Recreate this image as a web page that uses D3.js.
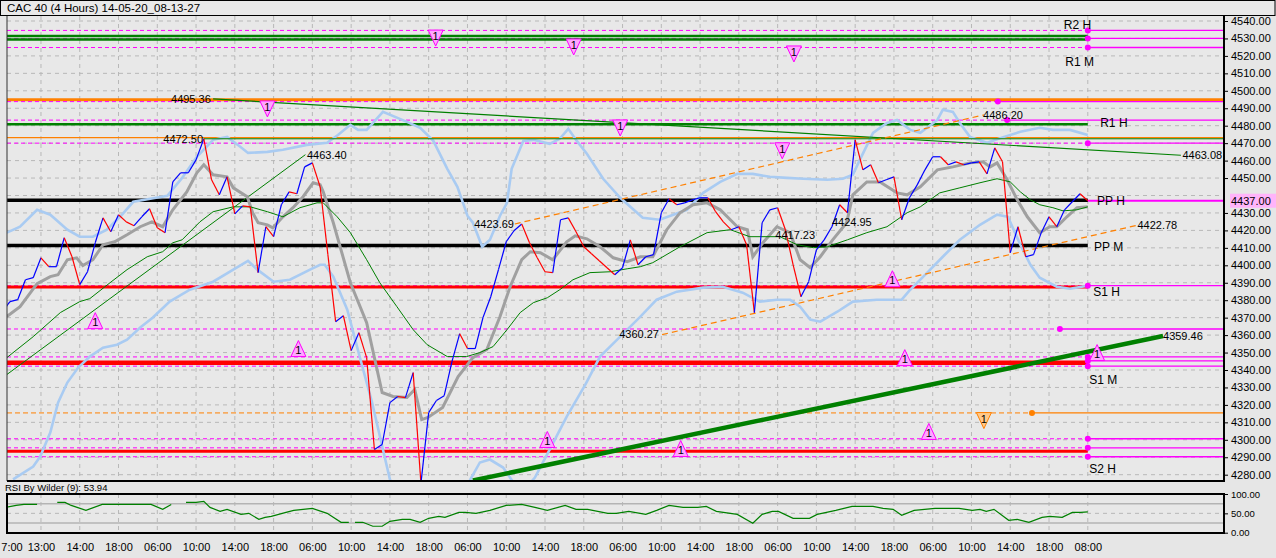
<!DOCTYPE html>
<html><head><meta charset="utf-8">
<script src="https://cdn.jsdelivr.net/npm/d3@7"></script>
<style>
html,body{margin:0;padding:0;background:#e6e6e6;overflow:hidden}
text{font-family:"Liberation Sans",Arial,sans-serif;fill:#000}
</style></head><body>
<svg id="c" width="1276" height="558"></svg>
<script>
// ---------------- DATA ----------------
const chartTitle = "CAC 40 (4 Hours) 14-05-20_08-13-27";
const rsiTitle = "RSI By Wilder (9): 53.94";
const timeLabels = ["7:00","13:00","14:00","18:00","06:00","10:00","14:00","18:00","06:00","10:00","14:00","18:00","06:00","10:00","14:00","18:00","06:00","10:00","14:00","18:00","06:00","10:00","14:00","18:00","06:00","10:00","14:00","18:00","08:00"];
const timeBars = [1.2,5,10,15,20,25,30,35,40,45,50,55,60,65,70,75,80,85,90,95,100,105,110,115,120,125,130,135,140];
const priceTicks = [4280,4290,4300,4310,4320,4330,4340,4350,4360,4370,4380,4390,4400,4410,4420,4430,4440,4450,4460,4470,4480,4490,4500,4510,4520,4530,4540];
const rsiTicks = [0,50,100];
const lastPrice = 4437.00;

const closes = [
4373.4,4379.2,4380.3,4391.7,4392.9,4404.3,4399.2,4399.2,4415.8,4404.9,
4388.9,4396.3,4412.9,4427.2,4419.2,4429.0,4424.9,4422.7,4427.8,4432.4,
4421.5,4418.7,4447.8,4453.0,4453.0,4460.4,4472.5,4449.0,4440.4,4450.7,
4429.5,4434.1,4433.5,4395.8,4422.1,4416.4,4434.7,4442.1,4441.0,4456.4,
4458.7,4445.0,4406.1,4367.7,4371.1,4351.1,4361.4,4347.1,4294.4,4297.3,
4321.3,4324.8,4324.2,4338.5,4275.0,4315.6,4322.5,4325.3,4344.8,4360.8,
4352.3,4352.3,4370.0,4382.0,4397.5,4413.5,4419.8,4423.7,4412.9,4404.3,
4396.3,4395.8,4426.1,4427.2,4419.2,4410.6,4406.6,4402.6,4398.6,4394.6,
4398.6,4414.6,4400.3,4404.9,4406.1,4430.1,4438.1,4434.7,4435.8,4437.5,
4438.7,4438.7,4430.7,4424.9,4420.4,4422.1,4411.8,4372.9,4424.4,4431.8,
4433.0,4420.4,4400.3,4382.0,4390.6,4408.9,4414.6,4422.1,4434.7,4430.1,
4471.9,4454.7,4457.6,4447.3,4449.0,4450.7,4426.1,4438.7,4446.1,4454.7,
4462.2,4462.2,4457.6,4459.3,4457.6,4458.7,4459.3,4452.4,4467.3,4459.3,
4407.2,4422.1,4404.9,4406.1,4418.7,4427.8,4422.1,4431.8,4436.4,4441.0,
4437.0];

const greyMA = [[0.6,4370.6],[2.3,4376.3],[4.5,4389.5],[6.2,4393.5],[7.2,4394.6],[8.4,4403.2],[9.6,4404.3],[10.4,4399.8],[11.7,4403.2],[13.0,4411.8],[14.5,4413.5],[16.1,4417.5],[17.8,4422.1],[19.3,4424.9],[20.7,4422.1],[22.0,4431.8],[23.8,4442.1],[25.1,4453.0],[26.0,4457.6],[27.2,4451.9],[29.0,4450.7],[29.8,4444.4],[31.6,4439.3],[32.3,4430.1],[33.0,4424.4],[34.2,4423.2],[34.9,4421.5],[36.2,4427.8],[37.5,4433.0],[38.8,4439.3],[40.1,4447.3],[41.0,4446.1],[41.4,4442.1],[42.7,4424.4],[44.9,4390.0],[47.0,4367.1],[49.0,4327.1],[50.4,4324.8],[52.2,4324.2],[53.2,4328.8],[54.1,4311.6],[54.9,4312.8],[56.8,4318.5],[58.8,4336.2],[60.7,4347.1],[62.5,4351.7],[64.2,4370.6],[65.5,4387.7],[67.0,4403.2],[68.1,4407.8],[69.4,4407.2],[71.0,4403.2],[72.8,4413.5],[73.9,4416.9],[75.4,4415.2],[77.1,4410.6],[78.8,4404.3],[80.6,4402.1],[82.3,4404.9],[83.9,4404.9],[85.7,4420.4],[87.4,4430.1],[89.1,4434.7],[90.9,4435.8],[92.6,4431.8],[94.8,4422.1],[96.1,4420.4],[96.8,4404.9],[98.1,4412.9],[99.9,4422.1],[101.6,4418.7],[102.9,4403.2],[104.2,4398.6],[105.5,4404.9],[107.1,4414.6],[108.9,4424.4],[109.7,4440.4],[111.5,4447.8],[113.2,4447.8],[115.4,4441.5],[116.7,4440.4],[118.4,4445.0],[120.6,4454.7],[122.6,4456.4],[124.8,4458.7],[126.5,4459.3],[127.4,4456.4],[128.3,4458.7],[129.6,4449.0],[130.9,4437.5],[132.2,4427.8],[133.8,4418.7],[135.1,4422.1],[136.0,4422.1],[137.3,4427.8],[138.6,4433.0],[140,4433.5]];

const greenMA = [[0.6,4347.1],[4.0,4359.1],[7.5,4372.9],[10.0,4379.2],[11.3,4380.9],[13.9,4390.0],[16.1,4397.5],[18.7,4404.9],[20.7,4407.8],[22.0,4412.9],[23.2,4414.6],[25.5,4424.9],[27.2,4430.7],[29.8,4433.5],[32.0,4433.5],[34.2,4430.7],[36.2,4427.8],[38.4,4433.0],[40.6,4435.8],[41.4,4435.8],[43.2,4427.8],[44.9,4418.7],[47.0,4403.2],[48.7,4390.0],[50.9,4376.3],[53.0,4363.1],[54.8,4354.5],[57.4,4347.7],[59.9,4347.7],[61.6,4350.0],[63.3,4353.4],[65.1,4363.1],[66.8,4372.9],[68.5,4378.6],[70.3,4381.4],[71.9,4386.0],[73.6,4391.7],[75.8,4395.8],[78.4,4396.3],[80.6,4398.0],[82.3,4399.2],[83.9,4401.5],[87.4,4410.6],[90.9,4418.7],[93.9,4420.4],[96.4,4416.4],[100.3,4416.4],[102.5,4411.8],[104.6,4410.1],[106.4,4410.6],[109.0,4414.6],[111.5,4418.7],[114.1,4422.1],[116.7,4430.1],[118.4,4433.5],[120.9,4441.5],[123.5,4444.4],[126.1,4447.3],[128.3,4449.6],[130.0,4447.8],[131.3,4442.1],[132.6,4437.5],[133.8,4434.7],[135.5,4433.0],[136.8,4431.2],[138.6,4431.8],[140,4433.5]];

const upperBand = [[0.6,4418.7],[2.3,4422.1],[4.5,4431.8],[6.2,4429.0],[8.4,4420.4],[10.0,4416.4],[11.7,4416.4],[13.5,4420.4],[15.2,4427.8],[16.9,4436.4],[19.1,4438.1],[21.3,4439.8],[23.2,4450.1],[25.1,4462.2],[27.2,4471.9],[29.0,4473.6],[30.7,4467.9],[31.7,4464.4],[34.2,4465.0],[36.2,4466.2],[39.3,4469.0],[41.9,4470.2],[43.3,4474.7],[44.9,4480.5],[45.9,4477.6],[47.0,4477.6],[49.1,4487.9],[52.2,4482.2],[53.9,4478.8],[55.6,4471.3],[57.4,4455.3],[58.7,4445.0],[60.0,4428.4],[60.7,4424.4],[61.9,4410.6],[62.9,4414.6],[64.2,4428.4],[65.1,4435.8],[65.7,4455.3],[67.2,4471.3],[68.5,4471.9],[70.6,4469.6],[71.9,4472.5],[73.0,4478.2],[74.1,4471.3],[75.4,4463.9],[77.5,4449.6],[79.7,4438.7],[82.6,4427.2],[84.8,4426.1],[88.3,4431.8],[90.4,4441.5],[92.6,4447.8],[94.8,4452.4],[96.8,4452.4],[99.0,4450.7],[101.2,4450.1],[103.3,4449.6],[106.4,4449.0],[108.4,4449.6],[109.7,4451.9],[110.6,4460.4],[112.3,4475.9],[114.1,4481.6],[115.4,4483.3],[117.1,4477.6],[118.4,4475.9],[120.6,4483.3],[121.3,4489.1],[122.6,4487.9],[123.5,4481.6],[124.8,4473.6],[127.0,4470.2],[129.2,4473.6],[131.3,4476.5],[133.8,4478.8],[135.5,4477.6],[137.7,4477.6],[140,4474.7]];

const lowerBand = [[1.4,4277.3],[4.0,4284.7],[4.9,4290.4],[6.2,4304.2],[7.2,4321.3],[8.4,4332.8],[9.8,4341.4],[11.3,4347.7],[13.0,4352.8],[14.8,4354.5],[16.1,4357.4],[17.8,4364.3],[19.4,4370.0],[21.6,4379.2],[24.2,4386.0],[27.2,4390.6],[29.8,4397.5],[31.7,4402.6],[32.9,4397.5],[35.0,4390.6],[37.1,4391.7],[39.7,4397.5],[41.0,4400.3],[41.6,4400.3],[42.7,4393.5],[44.5,4374.6],[46.1,4347.7],[47.7,4321.3],[49.1,4294.4],[50.0,4277.3],[52.0,4263.0],[55.2,4257.2],[58.4,4265.8],[60.3,4276.7],[61.6,4287.0],[62.9,4288.7],[64.6,4284.1],[66.1,4274.4],[67.4,4271.6],[68.7,4278.4],[70.6,4294.4],[72.8,4313.3],[75.2,4331.6],[77.1,4347.7],[79.7,4359.1],[82.3,4370.6],[84.4,4380.3],[87.0,4384.9],[90.4,4387.2],[92.9,4387.7],[95.5,4384.3],[97.7,4379.2],[99.9,4380.3],[101.6,4380.3],[102.9,4376.3],[104.2,4368.9],[105.5,4367.7],[107.7,4373.4],[109.7,4379.2],[112.8,4380.3],[116.0,4380.3],[117.1,4386.0],[119.3,4395.8],[121.3,4404.9],[123.5,4414.6],[126.1,4423.2],[128.3,4429.0],[129.7,4427.8],[131.3,4411.8],[132.6,4400.3],[133.8,4392.9],[136.0,4387.7],[137.7,4386.6],[140,4388.3]];

const rsi = [[0.5,65.4],[1.8,70.5],[2.8,73.1],[4.5,73.1],null,
[7.1,78.2],[8.1,78.2],[8.9,70.5],[10.8,57.7],[12.9,73.1],[15.5,73.1],[17.6,73.1],[19.2,73.1],[20.7,60.3],[21.8,73.1],null,
[23.7,78.2],[25.0,78.2],[26.0,80.8],[26.8,65.4],[28.1,55.1],[29.0,60.3],[30.8,47.4],[31.8,50.0],[33.1,34.6],[33.9,39.7],[34.7,42.3],[36.6,52.6],[37.6,57.7],[40.0,62.8],[41.9,50.0],[43.7,26.9],[44.7,26.9],null,
[45.5,26.9],[46.5,26.9],[47.8,16.7],[49.0,16.7],[50.0,29.5],[51.6,34.6],[52.6,34.6],[53.9,26.9],[55.0,37.2],[56.3,42.3],[57.1,39.7],[58.9,52.6],[59.7,52.6],[61.1,50.0],[62.9,57.7],[65.0,70.5],[67.0,73.1],[68.7,65.4],[70.3,57.7],[72.6,70.5],[74.0,60.3],[75.5,60.3],[78.1,50.0],[79.2,50.0],[80.8,55.1],[83.0,47.4],[84.4,57.7],[86.0,70.5],[87.8,65.4],[89.7,65.4],[90.8,67.9],[92.1,55.1],[94.8,47.4],[96.8,24.4],[98.0,47.4],[99.3,55.1],[100.1,55.1],[102.0,37.2],[104.1,37.2],[105.1,47.4],[107.5,57.7],[109.6,67.9],[112.3,67.9],[113.6,62.8],[114.9,60.3],[116.0,44.9],[117.6,57.7],[120.3,62.8],[123.4,62.8],[125.1,57.7],[126.1,60.3],[126.9,55.1],[127.9,60.3],[129.8,32.1],[130.9,34.6],[132.4,26.9],[134.1,39.7],[135.1,42.3],[136.7,39.7],[138.0,52.6],[139.1,52.6],[140,53.94]];
const rsiLevels = [25,75];

// pivot / level lines
const pivotLevels  = [4534.6,4530.0,4524.8,4493.8,4483.2,4470.0,4388.3,4363.5,4347.5,4345.2,4342.2,4300.6,4295.4,4290.3];
const pivotDotBar  = [140,140,140,128.4,129.6,140,140,136.4,140,140,140,140,140,140];
const pivotDashed  = [1,1,1,1,1,1,1,1,1,0,1,1,1,1];
const pivotNames   = ["R2 H","R1 M","R1 H","PP H","PP M","S1 H","S1 M","S2 H"];
const pivotNameBar = [136.9,137.1,141.6,141.2,140.8,140.7,140.2,140.2];
const pivotNamePrice = [4537.7,4516.5,4481.6,4437.0,4410.7,4384.8,4334.5,4283.5];
const greenLevels = [4531.4,4529.4,4480.9];
const orangeLevels = [4494.8,4473.2];
const blackLevels = [4437.3,4411.4];
const redLevels = [4387.5,4344.1,4293.5];
const orangeDashLevel = 4315.4, orangeDashDotBar = 132.8;

// trend lines [bar, price]
const trendDownG = [[27.2,4495.36],[152.0,4463.08]];
const trendFlatG = [[26,4472.5],[157.6,4472.5]];
const trendUpG   = [[0.6,4337.4],[39.1,4463.4]];
const trendThick = [[60.7,4276.7],[149.7,4359.46]];
const trendOrA   = [[66.1,4423.69],[126.6,4486.2]];
const trendOrB   = [[85.1,4360.27],[146.2,4422.78]];

// price annotations
const valueText   = ["4495.36","4472.50","4463.40","4423.69","4360.27","4486.20","4463.08","4422.78","4359.46","4417.23","4424.95"];
const valueBar    = [26.9,25.9,39.3,66.0,84.7,126.5,152.2,146.4,149.7,99.7,107.0];
const valuePrice  = [4495.36,4472.50,4463.40,4423.69,4360.27,4486.20,4463.08,4422.78,4359.46,4417.23,4424.95];
const valueAnchor = ["end","end","start","end","end","start","start","start","start","start","start"];

// signal triangles [bar, price at flat edge]
const sigDown = [[55.9,4534.8],[73.7,4529.7],[102.1,4525.7],[34.2,4494.2],[79.7,4483.3],[100.6,4470.2]];
const sigUp   = [[12.0,4363.7],[38.2,4347.7],[114.8,4387.7],[116.4,4342.5],[141.2,4345.4],[70.3,4295.6],[87.5,4290.4],[119.5,4300.2]];
const sigOrange = [[126.6,4315.6]];

// ---------------- DRAW ----------------
const W=1276,H=558, PL=7, PR=1224, PT=16, PB=481, RT=494, RB=533;
const svg=d3.select('#c');
const x=d3.scaleLinear().domain([0,140]).range([2.2,1087.8]);
const y=d3.scaleLinear().domain([4280,4540]).range([474.7,21]);
const yr=d3.scaleLinear().domain([0,100]).range([532.7,494]);
const iL=x.invert(PL), iR=x.invert(PR);
const gridBars=d3.range(5,141,5);

svg.append('rect').attr('width',W).attr('height',H).attr('fill','#e6e6e6');
svg.append('rect').attr('x',0.5).attr('y',0.5).attr('width',W-1.5).attr('height',15).attr('fill','#e9e9e9').attr('stroke','#000');
svg.append('text').attr('x',7).attr('y',12).attr('font-size',11.5).text(chartTitle);

const defs=svg.append('defs');
defs.append('clipPath').attr('id','cp').append('rect').attr('x',PL).attr('y',PT).attr('width',PR-PL).attr('height',PB-PT);
defs.append('clipPath').attr('id','cr').append('rect').attr('x',PL).attr('y',RT).attr('width',PR-PL).attr('height',RB-RT);
defs.append('clipPath').attr('id','cbox').append('rect').attr('x',PR).attr('y',0).attr('width',W-PR).attr('height',y(lastPrice)-7);

const g=svg.append('g').attr('clip-path','url(#cp)');
g.append('rect').attr('x',PL).attr('y',PT).attr('width',PR-PL).attr('height',PB-PT).attr('fill','#e8e8e8');

// grid
g.selectAll('.vg').data(gridBars).join('line').attr('x1',d=>x(d)).attr('x2',d=>x(d)).attr('y1',PT).attr('y2',PB)
 .attr('stroke','#b8b8b8').attr('stroke-dasharray','4,4');
g.selectAll('.hg').data(priceTicks).join('line').attr('x1',PL).attr('x2',PR).attr('y1',d=>y(d)).attr('y2',d=>y(d))
 .attr('stroke','#b8b8b8').attr('stroke-dasharray','4,4');

function hl(p,i0,i1,color,w,dash){
  const l=g.append('line').attr('x1',x(i0)).attr('x2',x(i1)).attr('y1',y(p)).attr('y2',y(p))
    .attr('stroke',color).attr('stroke-width',w);
  if(dash) l.attr('stroke-dasharray',dash);
  return l;
}
const ln=d3.line().x(d=>x(d[0])).y(d=>y(d[1]));

// level lines
orangeLevels.forEach((p,k)=>hl(p,iL,iR,'#ff8000',k===0?3:1.3));
pivotLevels.forEach((p,k)=>{
  if(pivotDashed[k]) hl(p,iL,pivotDotBar[k],'#ff00ff',1,'4,3');
  hl(p,pivotDotBar[k],iR,'#ff00ff',1.3);
});
hl(lastPrice,iL,140,'#ff00ff',1);
hl(lastPrice,140,iR,'#ff00ff',2);
hl(orangeDashLevel,iL,orangeDashDotBar,'#ff8000',1,'5,3');
hl(orangeDashLevel,orangeDashDotBar,iR,'#ff8000',1.2);
greenLevels.forEach(p=>hl(p,iL,140,'#008000',2.5));
blackLevels.forEach(p=>hl(p,iL,140,'#000',3.5));
redLevels.forEach((p,k)=>hl(p,iL,140,'#ff0000',k===1?4.5:3));

// bands
[upperBand,lowerBand].forEach(s=>g.append('path').attr('d',ln(s)).attr('fill','none').attr('stroke','#a9cbf2').attr('stroke-width',2.6));

// trend lines
g.append('path').attr('d',ln(trendFlatG)).attr('fill','none').attr('stroke','#008000').attr('stroke-width',1);
g.append('path').attr('d',ln(trendDownG)).attr('fill','none').attr('stroke','#008000').attr('stroke-width',1.2);
g.append('path').attr('d',ln(trendUpG)).attr('fill','none').attr('stroke','#008000').attr('stroke-width',1);
[trendOrA,trendOrB].forEach(s=>g.append('path').attr('d',ln(s)).attr('fill','none').attr('stroke','#ff8000').attr('stroke-width',1.2).attr('stroke-dasharray','6,4'));

// moving averages
g.append('path').attr('d',ln(greyMA)).attr('fill','none').attr('stroke','#a0a0a0').attr('stroke-width',3);
g.append('path').attr('d',ln(greenMA)).attr('fill','none').attr('stroke','#008000').attr('stroke-width',1);

// price line
const pts=closes.map((c,i)=>[i,c]);
g.selectAll('.seg').data(d3.pairs(pts)).join('line')
 .attr('x1',d=>x(d[0][0])).attr('y1',d=>y(d[0][1])).attr('x2',d=>x(d[1][0])).attr('y2',d=>y(d[1][1]))
 .attr('stroke',d=>d[1][1]>=d[0][1]?'#0000ff':'#ff0000').attr('stroke-width',1.2);

// thick rising trend line
g.append('path').attr('d',ln(trendThick)).attr('fill','none').attr('stroke','#008000').attr('stroke-width',4.5);

// dots
g.selectAll('.dot').data(pivotLevels).join('circle').attr('cx',(d,k)=>x(pivotDotBar[k])).attr('cy',d=>y(d)).attr('r',3).attr('fill','#ff00ff');
g.append('circle').attr('cx',x(orangeDashDotBar)).attr('cy',y(orangeDashLevel)).attr('r',3).attr('fill','#ff8000');

// triangles
const tw=7.5, th=16;
function tri(data,down,fill,stroke){
  const tg=g.append('g');
  tg.selectAll('path').data(data).join('path')
   .attr('d',d=>{const cx=x(d[0]),yy=y(d[1]);
     return down?`M${cx-tw},${yy}L${cx+tw},${yy}L${cx},${yy+th}Z`:`M${cx},${yy-th}L${cx-tw},${yy}L${cx+tw},${yy}Z`;})
   .attr('fill',fill).attr('stroke',stroke).attr('stroke-width',1);
  tg.selectAll('text').data(data).join('text')
   .attr('x',d=>x(d[0])).attr('y',d=>down?y(d[1])+10:y(d[1])-2.5)
   .attr('text-anchor','middle').attr('font-size',11).text('1');
}
tri(sigDown,true,'#ffa6ff','#ff00ff');
tri(sigUp,false,'#ffa6ff','#ff00ff');
tri(sigOrange,true,'#ffc98a','#ff8000');

// value labels
g.selectAll('.vl').data(valueText).join('text')
 .attr('x',(d,k)=>x(valueBar[k])).attr('y',(d,k)=>y(valuePrice[k])).attr('dy','0.35em')
 .attr('text-anchor',(d,k)=>valueAnchor[k]).attr('font-size',11).text(d=>d);
// pivot names
g.selectAll('.pn').data(pivotNames).join('text')
 .attr('x',(d,k)=>x(pivotNameBar[k])).attr('y',(d,k)=>y(pivotNamePrice[k])).attr('dy','0.35em')
 .attr('font-size',12).text(d=>d);

// frame main
svg.append('line').attr('x1',PL).attr('x2',PL).attr('y1',PT).attr('y2',PB).attr('stroke','#333').attr('stroke-width',1);
svg.append('line').attr('x1',PL).attr('x2',PR+1).attr('y1',PB).attr('y2',PB).attr('stroke','#000').attr('stroke-width',2);
svg.append('line').attr('x1',PR).attr('x2',PR).attr('y1',PT).attr('y2',PB+1).attr('stroke','#000').attr('stroke-width',2);

// right price axis
const ax=svg.append('g').attr('transform',`translate(${PR},0)`)
 .call(d3.axisRight(y).tickValues(priceTicks).tickFormat(d3.format('.2f')).tickSize(4).tickPadding(3));
ax.select('.domain').remove();
ax.selectAll('text').attr('font-size',11).attr('font-family','"Liberation Sans",Arial,sans-serif').attr('fill','#000');
ax.selectAll('line').attr('stroke','#000');
// the tick label hidden behind the last-price box only shows its top part
ax.selectAll('.tick').filter(d=>Math.abs(y(d)-y(lastPrice))<8).select('text')
  .attr('clip-path','url(#cbox)').attr('transform',`translate(0,0)`);
ax.selectAll('.tick').filter(d=>Math.abs(y(d)-y(lastPrice))<8).attr('clip-path','url(#cboxl)');
defs.append('clipPath').attr('id','cboxl').append('rect').attr('x',-5).attr('y',-20).attr('width',60).attr('height',(y(lastPrice)-7)-y(4440)+20);
// last price box
svg.append('rect').attr('x',PR+6).attr('y',y(lastPrice)-7).attr('width',46).attr('height',14).attr('fill','#ffb4fa');
svg.append('text').attr('x',PR+7).attr('y',y(lastPrice)).attr('dy','0.35em').attr('font-size',11).text(d3.format('.2f')(lastPrice));

// RSI panel
svg.append('text').attr('x',5).attr('y',490.5).attr('font-size',9.5).text(rsiTitle);
svg.append('rect').attr('x',PL).attr('y',RT).attr('width',PR-PL).attr('height',RB-RT).attr('fill','#e8e8e8');
const rg=svg.append('g').attr('clip-path','url(#cr)');
rg.selectAll('.vg').data(gridBars).join('line').attr('x1',d=>x(d)).attr('x2',d=>x(d)).attr('y1',RT).attr('y2',RB)
 .attr('stroke','#b8b8b8').attr('stroke-dasharray','4,4');
rg.append('line').attr('x1',PL).attr('x2',PR).attr('y1',yr(50)).attr('y2',yr(50)).attr('stroke','#b8b8b8').attr('stroke-dasharray','4,4');
rg.selectAll('.rl').data(rsiLevels).join('line').attr('x1',PL).attr('x2',PR).attr('y1',d=>yr(d)).attr('y2',d=>yr(d)).attr('stroke','#b4b4b4').attr('stroke-width',1.5);
const rline=d3.line().defined(d=>d!==null).x(d=>x(d[0])).y(d=>yr(d[1]));
rg.append('path').attr('d',rline(rsi)).attr('fill','none').attr('stroke','#008000').attr('stroke-width',1.2);
svg.append('rect').attr('x',PL).attr('y',RT).attr('width',PR-PL).attr('height',RB-RT).attr('fill','none').attr('stroke','#000').attr('stroke-width',2);
const rax=svg.append('g').attr('transform',`translate(${PR},0)`)
 .call(d3.axisRight(yr).tickValues(rsiTicks).tickFormat(d3.format('.2f')).tickSize(4).tickPadding(3));
rax.select('.domain').remove();
rax.selectAll('text').attr('font-size',9.5).attr('font-family','"Liberation Sans",Arial,sans-serif').attr('fill','#000');
rax.selectAll('line').attr('stroke','#000');

// time axis
const tax=svg.append('g').attr('transform',`translate(0,${RB+3})`)
 .call(d3.axisBottom(x).tickValues(timeBars).tickFormat((d,k)=>timeLabels[k]).tickSize(0).tickPadding(7));
tax.select('.domain').remove();
tax.selectAll('text').attr('font-size',11).attr('font-family','"Liberation Sans",Arial,sans-serif').attr('fill','#000');
</script>
</body></html>
